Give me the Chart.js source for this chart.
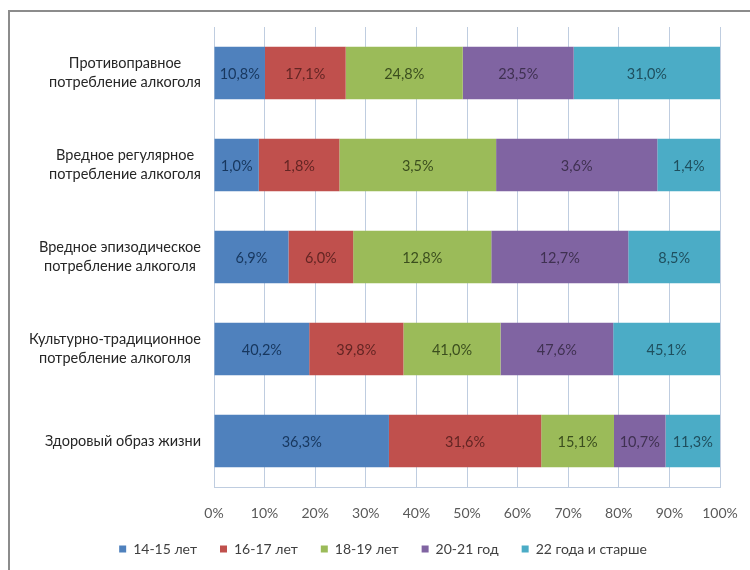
<!DOCTYPE html>
<html>
<head>
<meta charset="utf-8">
<script src="https://cdn.jsdelivr.net/npm/chart.js@4/dist/chart.umd.min.js"></script>
<style>
  html, body { margin: 0; padding: 0; background: #fff; }
  #wrap { width: 750px; height: 570px; position: relative; }
</style>
</head>
<body>
<div id="wrap"><canvas id="myChart" width="750" height="570"></canvas></div>
<script>
  // categories, top to bottom
  let categories = [
    ["Противоправное", "потребление алкоголя"],
    ["Вредное регулярное", "потребление алкоголя"],
    ["Вредное эпизодическое", "потребление алкоголя"],
    ["Культурно-традиционное", "потребление алкоголя"],
    ["Здоровый образ жизни"],
  ]

  let seriesNames = ["14-15 лет", "16-17 лет", "18-19 лет", "20-21 год", "22 года и старше"]

  // values as printed on the bars (%)
  let age1415 = [10.8, 1.0, 6.9, 40.2, 36.3]
  let age1617 = [17.1, 1.8, 6.0, 39.8, 31.6]
  let age1819 = [24.8, 3.5, 12.8, 41.0, 15.1]
  let age2021 = [23.5, 3.6, 12.7, 47.6, 10.7]
  let age22up = [31.0, 1.4, 8.5, 45.1, 11.3]

  let xTicks = [0, 10, 20, 30, 40, 50, 60, 70, 80, 90, 100]

  let colors = ["#4F81BD", "#C0504D", "#9BBB59", "#8064A2", "#4BACC6"]
  let labelColors = ["#17375E", "#632523", "#3B4E1E", "#3F3151", "#1F4F5E"]

  const FONT = "Lato, 'Open Sans', sans-serif"

  function buildDatasets() {
    let raw = [age1415, age1617, age1819, age2021, age22up]
    let totals = categories.map((c, i) => raw.reduce((s, arr) => s + arr[i], 0))
    return raw.map((arr, j) => ({
      label: seriesNames[j],
      raw: arr,
      // 100% stacked: each segment is its share of the row total
      data: arr.map((v, i) => v / totals[i] * 100),
      backgroundColor: colors[j],
      borderWidth: 0,
      barPercentage: 0.57,
      categoryPercentage: 1,
    }))
  }

  const frame = {
    id: "frame",
    beforeDraw(chart) {
      const c = chart.ctx
      c.save()
      c.strokeStyle = "#8c8c8c"
      c.lineWidth = 2
      c.beginPath()
      c.moveTo(9, 600)
      c.lineTo(9, 11)
      c.lineTo(760, 11)
      c.stroke()
      c.restore()
    },
    // x axis box is kept short so the legend sits close; let its labels draw below it
    afterLayout(chart) {
      chart.scales.x.bottom = chart.height
    },
  }

  const catLabels = {
    id: "catLabels",
    afterDraw(chart) {
      const c = chart.ctx
      const y = chart.scales.y
      c.save()
      c.font = "14.5px " + FONT
      c.fillStyle = "#262626"
      c.textBaseline = "middle"
      c.textAlign = "center"
      const right = 201
      const lh = 19
      categories.forEach((lines, i) => {
        const cy = y.getPixelForTick(i)
        const w = Math.max(...lines.map(l => c.measureText(l).width))
        const cx = right - w / 2
        const y0 = cy - (lines.length - 1) * lh / 2
        lines.forEach((l, k) => c.fillText(l, cx, y0 + k * lh))
      })
      c.restore()
    },
  }

  const valueLabels = {
    id: "valueLabels",
    afterDatasetsDraw(chart) {
      const c = chart.ctx
      c.save()
      c.font = "14.5px " + FONT
      c.textAlign = "center"
      c.textBaseline = "middle"
      chart.data.datasets.forEach((ds, j) => {
        const meta = chart.getDatasetMeta(j)
        c.fillStyle = labelColors[j]
        meta.data.forEach((bar, i) => {
          const p = bar.getProps(["x", "y", "base"], true)
          const txt = ds.raw[i].toFixed(1).replace(".", ",") + "%"
          c.fillText(txt, (p.x + p.base) / 2, p.y + 1)
        })
      })
      c.restore()
    },
  }

  function drawChart() {
    const ctx = document.getElementById("myChart")
    new Chart(ctx, {
      type: "bar",
      data: {
        labels: categories,
        datasets: buildDatasets(),
      },
      options: {
        indexAxis: "y",
        responsive: false,
        animation: false,
        layout: { padding: { top: 27, right: 30, left: 46, bottom: 4 } },
        scales: {
          x: {
            stacked: true,
            min: 0,
            max: 100,
            afterBuildTicks(scale) {
              scale.ticks = xTicks.map(v => ({ value: v }))
            },
            afterFit(scale) { scale.height = 32 },
            ticks: {
              callback: v => v + "%",
              color: "#595959",
              font: { family: FONT, size: 14 },
              padding: 2,
              maxRotation: 0,
            },
            grid: {
              color: "#BFCDE0",
              drawTicks: true,
              tickLength: 16,
              tickColor: "rgba(0,0,0,0)",
            },
            border: { color: "#BFCDE0" },
          },
          y: {
            stacked: true,
            ticks: { display: false },
            grid: { display: false },
            border: { color: "#BFCDE0" },
            afterFit(scale) { scale.width = 168 },
          },
        },
        plugins: {
          legend: {
            position: "bottom",
            labels: {
              boxWidth: 7,
              boxHeight: 7,
              padding: 23,
              color: "#404040",
              font: { family: FONT, size: 14 },
            },
          },
          tooltip: { enabled: false },
        },
      },
      plugins: [frame, catLabels, valueLabels],
    })
  }

  document.addEventListener("DOMContentLoaded", drawChart)
</script>
</body>
</html>
